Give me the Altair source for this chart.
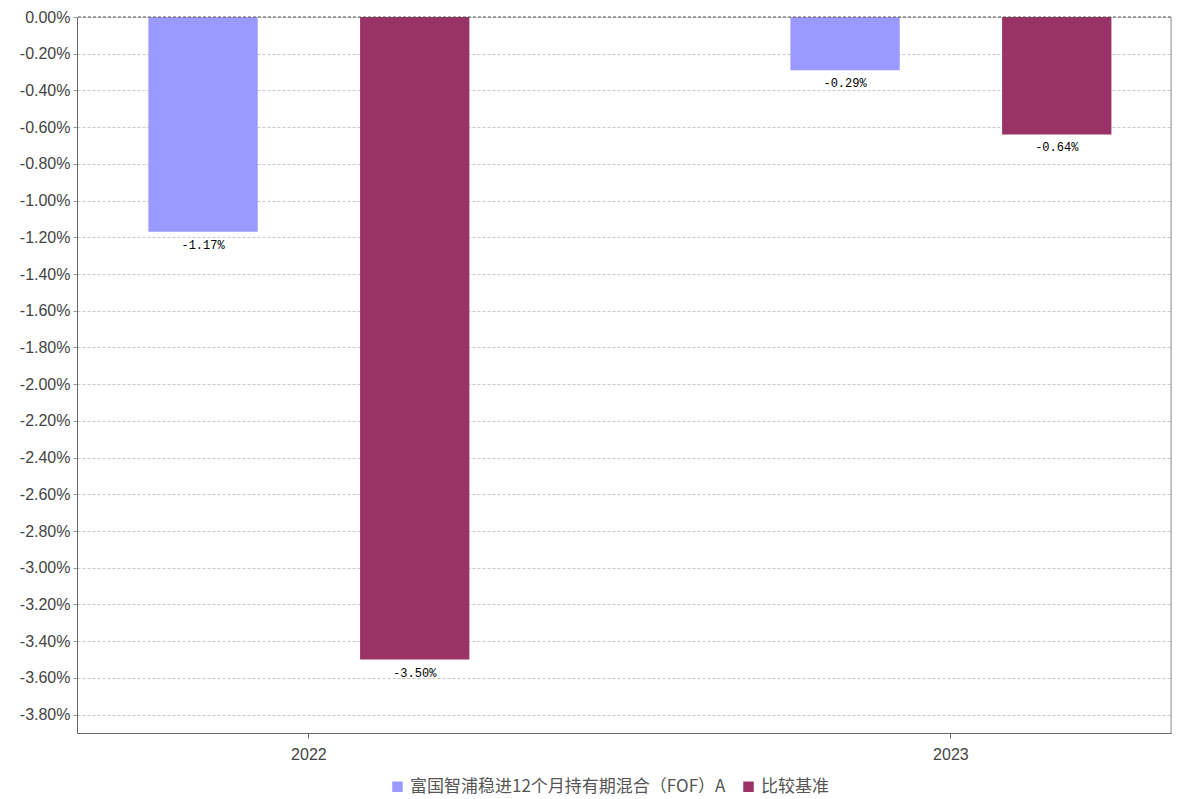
import altair as alt
import pandas as pd

years = ["2022", "2022", "2023", "2023"]
series = ["富国智浦稳进12个月持有期混合（FOF）A", "比较基准",
          "富国智浦稳进12个月持有期混合（FOF）A", "比较基准"]
values = [-1.17, -3.50, -0.29, -0.64]
series_order = ["富国智浦稳进12个月持有期混合（FOF）A", "比较基准"]
colors = ["#9999ff", "#993366"]
y_ticks = [round(-0.2 * i, 2) for i in range(0, 20)]

df = pd.DataFrame({"year": years, "series": series, "value": values})
df["label"] = df["value"].map(lambda v: f"{v:.2f}%")

W, H = 1094, 716

x_axis = alt.Axis(labelAngle=0, labelFontSize=16, labelColor="#444",
                  labelFont="Liberation Sans", domainColor="#666",
                  tickColor="#666", tickSize=5, labelPadding=8, grid=False)
y_axis = alt.Axis(values=y_ticks, tickCount=20,
                  labelExpr="replace(format(datum.value, '.2f'), '\u2212', '-') + '%'",
                  labelOverlap=False, labelFlush=False,
                  labelFontSize=16, labelColor="#444", labelFont="Liberation Sans",
                  gridDash=[3, 2], gridColor="#c8c8c8", domainColor="#666",
                  tickColor="#999", tickSize=4, labelPadding=3)
x_scale = alt.Scale(paddingInner=0.5, paddingOuter=0.102, align=0.545)
xo_scale = alt.Scale(paddingInner=0.4836, paddingOuter=0)
y_scale = alt.Scale(domain=[-3.9, 0], nice=False, zero=False)

bars = alt.Chart(df).mark_bar().encode(
    x=alt.X("year:N", title=None, scale=x_scale, axis=x_axis),
    xOffset=alt.XOffset("series:N", sort=series_order, scale=xo_scale),
    y=alt.Y("value:Q", title=None, scale=y_scale, axis=y_axis),
    y2=alt.datum(0),
    color=alt.Color("series:N", sort=series_order,
                    scale=alt.Scale(domain=series_order, range=colors),
                    legend=alt.Legend(title=None, orient="none", legendX=312, legendY=761,
                                      direction="horizontal", symbolType="square",
                                      symbolSize=110, symbolStrokeWidth=0,
                                      labelFontSize=17, labelColor="#555",
                                      labelFont="Noto Sans CJK SC", columnPadding=14,
                                      labelLimit=500)),
)

text = alt.Chart(df).mark_text(baseline="top", dy=8, fontSize=12,
                               font="Liberation Mono", color="#000").encode(
    x=alt.X("year:N", title=None, scale=x_scale, axis=x_axis),
    xOffset=alt.XOffset("series:N", sort=series_order, scale=xo_scale),
    y=alt.Y("value:Q", title=None, scale=y_scale, axis=y_axis),
    text="label:N",
)

top_rule = alt.Chart(pd.DataFrame({"value": [0.0]})).mark_rule(
    color="#555", strokeDash=[3, 2], strokeWidth=1).encode(
    y=alt.Y("value:Q", title=None, scale=y_scale, axis=y_axis))

right_rule = alt.Chart(pd.DataFrame({"v": [0]})).mark_rule(
    color="#999", strokeWidth=1).encode(x=alt.value(W), y=alt.value(0), y2=alt.value(H))

chart = alt.layer(bars, text, top_rule, right_rule).properties(
    width=W, height=H,
    autosize=alt.AutoSizeParams(type="none"),
    padding={"left": 69, "top": 9, "right": 7, "bottom": 66},
).configure_view(stroke=None).configure(background="white")

chart.save("out.html", embed_options={"renderer": "svg", "actions": False})
